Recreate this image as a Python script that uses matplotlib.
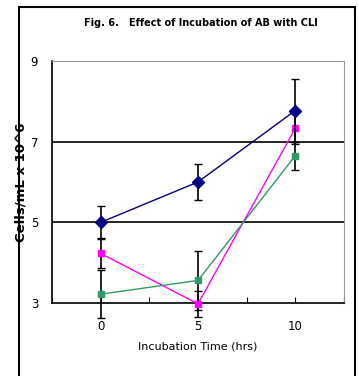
import matplotlib
matplotlib.use('Agg')
import matplotlib.pyplot as plt
from matplotlib.patches import Rectangle

# data
hours = [0, 5, 10]
series1 = [5.0, 6.0, 7.77]
err1 = [0.41, 0.44, 0.77]
series2 = [4.23, 2.98, 7.33]
err2 = [0.37, 0.32, 0.4]
series3 = [3.22, 3.56, 6.65]
err3 = [0.6, 0.72, 0.35]

fig = plt.figure(figsize=(3.59, 3.76), dpi=100)
ax = fig.add_axes([0.145, 0.194, 0.813, 0.644])

ax.errorbar(hours, series1, yerr=err1, color='#000080', marker='D', markersize=6,
            lw=1, ecolor='black', elinewidth=1.2, capsize=3, clip_on=False, zorder=5)
ax.errorbar(hours, series2, yerr=err2, color='#FF00FF', marker='s', markersize=5,
            lw=1, ecolor='black', elinewidth=1.2, capsize=3, clip_on=False, zorder=4)
ax.errorbar(hours, series3, yerr=err3, color='#339966', marker='s', markersize=5,
            lw=1, ecolor='black', elinewidth=1.2, capsize=3, clip_on=False, zorder=4)

ax.set_xlim(-2.5, 12.5)
ax.set_ylim(3, 9)
ax.set_xticks([-2.5, 0, 2.5, 5, 7.5, 10, 12.5])
ax.set_xticklabels(['', '0', '', '5', '', '10', ''], fontsize=8.5)
ax.set_yticks([3, 5, 7, 9])
ax.set_yticklabels(['3', '5', '7', '9'], fontsize=8.5)
ax.tick_params(axis='x', direction='in', length=4, pad=12)
ax.tick_params(axis='y', length=0, pad=10)
for yv in [5, 7]:
    ax.axhline(yv, color='black', lw=1.2, zorder=1)

ax.spines['top'].set_color('#999999')
ax.spines['right'].set_color('#999999')
ax.spines['left'].set_linewidth(1.2)
ax.spines['bottom'].set_linewidth(1.2)

ax.set_xlabel('Incubation Time (hrs)', fontsize=8, labelpad=6)
ax.set_ylabel('Cells/mL x 10^6', fontweight='bold', fontsize=9.5, labelpad=2)

fig.text(0.235, 0.94, 'Fig. 6.', fontweight='bold', fontsize=7,
         ha='left', va='center')
fig.text(0.36, 0.94, 'Effect of Incubation of AB with CLI',
         fontweight='bold', fontsize=7, ha='left', va='center')

fig.patches.append(Rectangle((0.053, -0.02), 0.936, 1.001, transform=fig.transFigure,
                             fill=False, edgecolor='black', lw=1.5))

fig.savefig('out.png', dpi=100)
